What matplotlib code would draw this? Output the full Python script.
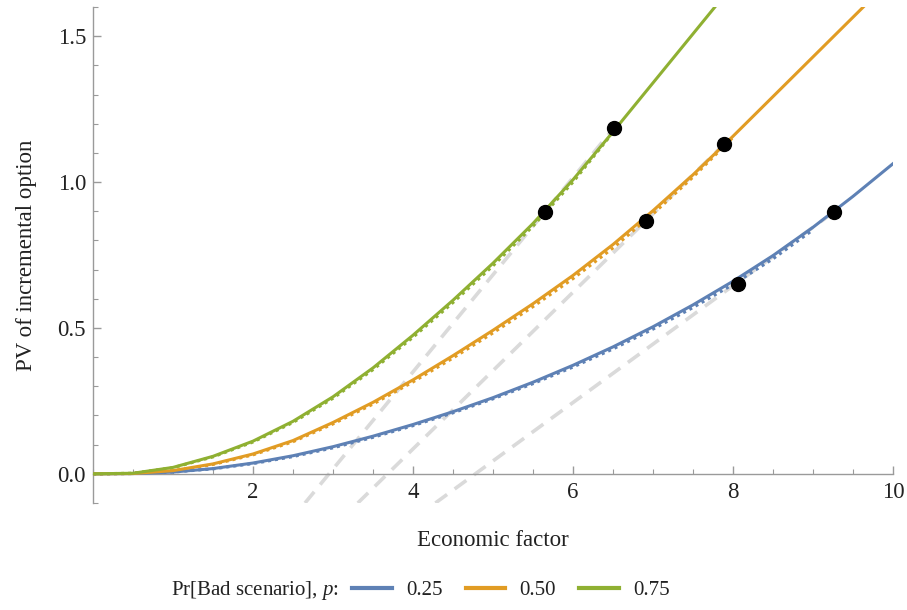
import matplotlib
matplotlib.use("Agg")
import matplotlib.pyplot as plt
from matplotlib.lines import Line2D
from matplotlib.ticker import MultipleLocator

plt.rcParams['font.family'] = ['Liberation Serif', 'DejaVu Serif']
plt.rcParams['mathtext.fontset'] = 'custom'
plt.rcParams['mathtext.rm'] = 'Liberation Serif'
plt.rcParams['mathtext.it'] = 'Liberation Serif:italic'

# economic factor grid (step 0.5)
x_grid = [0.0, 0.5, 1.0, 1.5, 2.0, 2.5, 3.0, 3.5, 4.0, 4.5, 5.0,
          5.5, 6.0, 6.5, 7.0, 7.5, 8.0, 8.5, 9.0, 9.5, 10.0]

# option value, one series per probability of the bad scenario
pv_025 = [0.0, 0.001, 0.006, 0.018, 0.037, 0.062, 0.093, 0.129, 0.169, 0.213, 0.261,
          0.314, 0.372, 0.435, 0.504, 0.579, 0.660, 0.748, 0.845, 0.951, 1.063]
pv_050 = [0.0, 0.001, 0.011, 0.034, 0.068, 0.114, 0.176, 0.245, 0.322, 0.405, 0.492,
          0.583, 0.680, 0.786, 0.902, 1.025, 1.157, 1.293, 1.429, 1.565, 1.701]
pv_075 = [0.0, 0.002, 0.022, 0.060, 0.112, 0.180, 0.264, 0.363, 0.475, 0.595, 0.722,
          0.858, 1.008, 1.172, 1.340, 1.508, 1.676]

# approximations (dotted)
approx_025 = [0.0, 0.001, 0.006, 0.017, 0.035, 0.059, 0.089, 0.125, 0.165, 0.209,
              0.257, 0.309, 0.366, 0.428, 0.496, 0.570, 0.649, 0.737, 0.836]
approx_050 = [0.0, 0.001, 0.010, 0.032, 0.065, 0.110, 0.171, 0.239, 0.315, 0.397,
              0.483, 0.573, 0.669, 0.774, 0.891, 1.017, 1.153]
approx_075 = [0.0, 0.002, 0.021, 0.058, 0.109, 0.176, 0.259, 0.357, 0.468, 0.587,
              0.713, 0.849, 1.000, 1.170]

# linear pieces: start and end points
lin_x = {'0.25': [4.28, 9.26], '0.50': [3.31, 7.89], '0.75': [2.65, 6.51]}
lin_y = {'0.25': [-0.10, 0.897], '0.50': [-0.10, 1.13], '0.75': [-0.10, 1.185]}

# marked points
dots_x = {'0.25': [8.06, 9.26], '0.50': [6.91, 7.89], '0.75': [5.65, 6.51]}
dots_y = {'0.25': [0.650, 0.897], '0.50': [0.868, 1.13], '0.75': [0.897, 1.185]}

labels = ['0.25', '0.50', '0.75']
colors = {'0.25': '#5E81B5', '0.50': '#E19C24', '0.75': '#8FB032'}
solid = {'0.25': pv_025, '0.50': pv_050, '0.75': pv_075}
dotted = {'0.25': approx_025, '0.50': approx_050, '0.75': approx_075}

fig = plt.figure(figsize=(9.07, 6.10), dpi=100)
ax = fig.add_axes([93 / 907, 107 / 610, 800 / 907, 496 / 610])

for k in labels:
    ax.plot(lin_x[k], lin_y[k], color='#DADADA', lw=2.6, dashes=(4, 2.6), zorder=1)
for k in labels:
    ys = dotted[k]
    ax.plot(x_grid[:len(ys)], ys, color=colors[k], lw=2.2, dashes=(1, 1.3), zorder=2)
for k in labels:
    ys = solid[k]
    ax.plot(x_grid[:len(ys)], ys, color=colors[k], lw=2.2, zorder=3)
for k in labels:
    ax.plot(dots_x[k], dots_y[k], 'o', color='black', ms=10, zorder=4)

ax.set_xlim(0, 10)
ax.set_ylim(-0.1, 1.6)

axis_col = '#9A9A9A'
ax.spines['top'].set_visible(False)
ax.spines['right'].set_visible(False)
ax.spines['bottom'].set_position(('data', 0))
for s in ['left', 'bottom']:
    ax.spines[s].set_color(axis_col)
    ax.spines[s].set_linewidth(1.0)

ax.xaxis.set_minor_locator(MultipleLocator(0.5))
ax.yaxis.set_minor_locator(MultipleLocator(0.1))
ax.set_xticks([2, 4, 6, 8, 10])
ax.set_xticklabels(['2', '4', '6', '8', '10'])
ax.set_yticks([0.0, 0.5, 1.0, 1.5])
ax.set_yticklabels(['0.0', '0.5', '1.0', '1.5'])
ax.tick_params(which='major', direction='in', length=6, width=1.0, color=axis_col,
               labelsize=16.5, labelcolor='#222222')
ax.tick_params(which='minor', direction='in', length=3.5, width=0.8, color=axis_col)
ax.tick_params(axis='x', which='major', pad=6)
ax.tick_params(axis='y', which='major', pad=5)

ax.set_xlabel('Economic factor', fontsize=16.5, color='#222222', labelpad=19)
ax.set_ylabel('PV of incremental option', fontsize=16.5, color='#222222', labelpad=15)

fig.text(171 / 907, 20 / 610, 'Pr[Bad scenario], $p$:', fontsize=15,
         color='#222222', va='center', ha='left')
handles = [Line2D([0], [0], color=colors[k], lw=3) for k in labels]
fig.legend(handles, labels, loc='center left', bbox_to_anchor=(352 / 907, 20 / 610),
           ncol=3, frameon=False, fontsize=15, handlelength=1.9, handletextpad=0.7,
           columnspacing=1.1, borderpad=0, borderaxespad=0, labelcolor='#222222')

fig.savefig('out.png', dpi=100)
